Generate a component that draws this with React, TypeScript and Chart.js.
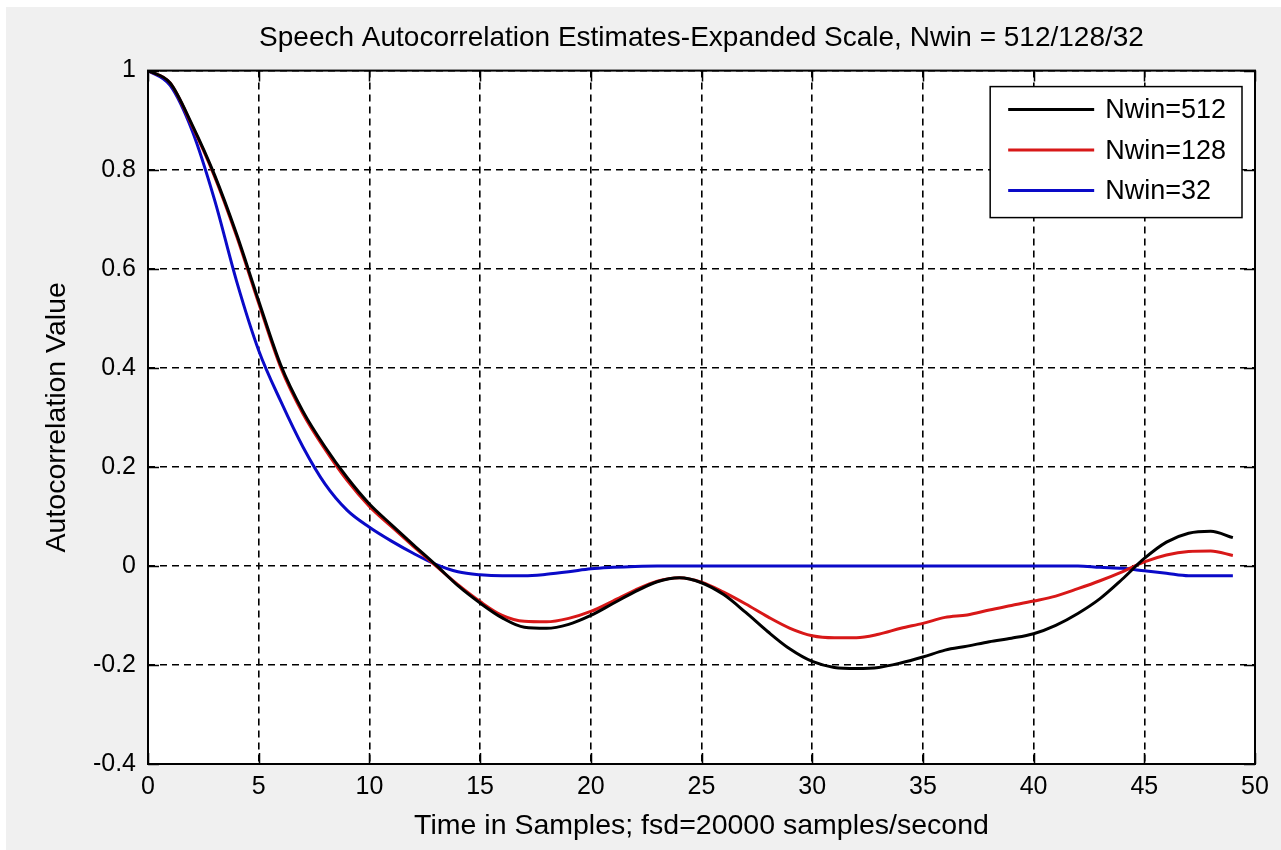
import React, { useEffect, useRef } from "react";
import { Chart, registerables } from "chart.js";

Chart.register(...registerables);

const lags = [
  0, 1, 2, 3, 4, 5, 6, 7, 8, 9, 10, 11, 12, 13, 14, 15, 16, 17, 18, 19, 20, 21, 22, 23, 24,
  25, 26, 27, 28, 29, 30, 31, 32, 33, 34, 35, 36, 37, 38, 39, 40, 41, 42, 43, 44, 45, 46, 47, 48, 49,
];

const nwin512 = [
  1.0, 0.975, 0.89, 0.79, 0.67, 0.535, 0.405, 0.312, 0.24, 0.178, 0.125, 0.083, 0.042, 0.002,
  -0.04, -0.075, -0.105, -0.124, -0.126, -0.118, -0.1, -0.076, -0.052, -0.032, -0.024, -0.034,
  -0.058, -0.094, -0.133, -0.168, -0.193, -0.205, -0.207, -0.205, -0.196, -0.184, -0.17, -0.162,
  -0.153, -0.146, -0.137, -0.12, -0.096, -0.066, -0.027, 0.015, 0.048, 0.066, 0.07, 0.057,
];

const nwin128 = [
  1.0, 0.975, 0.888, 0.787, 0.666, 0.53, 0.4, 0.307, 0.235, 0.172, 0.12, 0.079, 0.039, 0.0,
  -0.038, -0.072, -0.1, -0.112, -0.113, -0.106, -0.092, -0.071, -0.049, -0.031, -0.024, -0.033,
  -0.053, -0.077, -0.103, -0.126, -0.141, -0.145, -0.145, -0.138, -0.126, -0.116, -0.104, -0.099,
  -0.089, -0.08, -0.071, -0.061, -0.046, -0.03, -0.012, 0.008, 0.022, 0.029, 0.03, 0.021,
];

const nwin32 = [
  1.0, 0.97, 0.878, 0.74, 0.575, 0.435, 0.332, 0.24, 0.165, 0.112, 0.078, 0.05, 0.025, 0.003,
  -0.012, -0.018, -0.02, -0.02, -0.017, -0.012, -0.006, -0.003, -0.001, 0.0, 0.0, 0.0, 0.0, 0.0,
  0.0, 0.0, 0.0, 0.0, 0.0, 0.0, 0.0, 0.0, 0.0, 0.0, 0.0, 0.0, 0.0, 0.0, 0.0, -0.003, -0.005,
  -0.01, -0.015, -0.02, -0.02, -0.02,
];

const seriesLabels = ["Nwin=512", "Nwin=128", "Nwin=32"];
const seriesColors = ["#000000", "#d81818", "#0a0ac8"];

const xTicks = [0, 5, 10, 15, 20, 25, 30, 35, 40, 45, 50];
const yTicks = [-0.4, -0.2, 0, 0.2, 0.4, 0.6, 0.8, 1];

const titleText = "Speech Autocorrelation Estimates-Expanded Scale, Nwin = 512/128/32";
const xTitle = "Time in Samples; fsd=20000 samples/second";
const yTitle = "Autocorrelation Value";

const FONT = "'Liberation Sans', Arial, Helvetica, sans-serif";

const fmt = (v: number) => String(Number(v.toFixed(2)));

const matlabPlugin = {
  id: "matlabFrame",
  beforeDraw(chart: any) {
    const { ctx, chartArea: a } = chart;
    ctx.save();
    ctx.fillStyle = "#ffffff";
    ctx.fillRect(a.left, a.top, a.right - a.left, a.bottom - a.top);
    ctx.restore();
  },
  afterDraw(chart: any) {
    const { ctx, chartArea: a, scales } = chart;
    ctx.save();
    // inward tick marks on all four sides
    const tl = 11;
    ctx.strokeStyle = "#000";
    ctx.lineWidth = 1.5;
    ctx.setLineDash([]);
    ctx.beginPath();
    for (const t of xTicks) {
      const px = Math.round(scales.x.getPixelForValue(t)) + 0.5;
      ctx.moveTo(px, a.bottom);
      ctx.lineTo(px, a.bottom - tl);
      ctx.moveTo(px, a.top);
      ctx.lineTo(px, a.top + tl);
    }
    for (const t of yTicks) {
      const py = Math.round(scales.y.getPixelForValue(t)) + 0.5;
      ctx.moveTo(a.left, py);
      ctx.lineTo(a.left + tl, py);
      ctx.moveTo(a.right, py);
      ctx.lineTo(a.right - tl, py);
    }
    ctx.stroke();
    // axes box
    ctx.lineWidth = 2;
    ctx.strokeRect(a.left, a.top, a.right - a.left, a.bottom - a.top);

    // legend (inside the axes, top-right)
    const ds = chart.data.datasets;
    ctx.font = `27px ${FONT}`;
    let maxW = 0;
    for (const d of ds) maxW = Math.max(maxW, ctx.measureText(d.label).width);
    const padL = 18;
    const lineLen = 86;
    const gap = 11;
    const padR = 16;
    const boxW = padL + lineLen + gap + maxW + padR;
    const boxH = 131;
    const bx = a.right - 13 - boxW;
    const by = a.top + 16;
    ctx.fillStyle = "#ffffff";
    ctx.fillRect(bx, by, boxW, boxH);
    ctx.strokeStyle = "#000";
    ctx.lineWidth = 1.5;
    ctx.strokeRect(bx, by, boxW, boxH);
    ds.forEach((d: any, i: number) => {
      const yy = by + 23 + i * 40.5;
      ctx.strokeStyle = d.borderColor;
      ctx.lineWidth = 3;
      ctx.beginPath();
      ctx.moveTo(bx + padL, yy);
      ctx.lineTo(bx + padL + lineLen, yy);
      ctx.stroke();
      ctx.fillStyle = "#000";
      ctx.textBaseline = "middle";
      ctx.textAlign = "left";
      ctx.fillText(d.label, bx + padL + lineLen + gap, yy + 1);
    });
    ctx.restore();
  },
};

export default function App() {
  const canvasRef = useRef<HTMLCanvasElement | null>(null);

  useEffect(() => {
    const canvas = canvasRef.current;
    if (!canvas) return;
    const series = [nwin512, nwin128, nwin32];
    const chart = new Chart(canvas, {
      type: "line",
      data: {
        datasets: series.map((vals, i) => ({
          label: seriesLabels[i],
          data: lags.map((x, j) => ({ x, y: vals[j] })),
          borderColor: seriesColors[i],
          backgroundColor: seriesColors[i],
          borderWidth: 3,
          pointRadius: 0,
          cubicInterpolationMode: "monotone",
          fill: false,
        })),
      },
      options: {
        responsive: false,
        animation: false,
        devicePixelRatio: 1,
        layout: { padding: { left: 0, right: 26, top: 0, bottom: 0 } },
        plugins: {
          legend: { display: false },
          tooltip: { enabled: false },
          title: {
            display: true,
            fullSize: false,
            text: titleText,
            color: "#000",
            font: { family: FONT, size: 28, weight: "normal" },
            padding: { top: 21, bottom: 16 },
          },
        },
        scales: {
          x: {
            type: "linear",
            min: 0,
            max: 50,
            afterBuildTicks: (s: any) => {
              s.ticks = xTicks.map((v) => ({ value: v }));
            },
            afterFit: (s: any) => {
              s.height = 86;
            },
            ticks: {
              color: "#000",
              font: { family: FONT, size: 25 },
              padding: 8,
              maxRotation: 0,
              autoSkip: false,
              callback: (v: any) => fmt(Number(v)),
            },
            grid: { color: "#000", lineWidth: 1.6, drawTicks: false },
            border: { display: false, dash: [7, 5] },
            title: {
              display: true,
              text: xTitle,
              color: "#000",
              font: { family: FONT, size: 28.5 },
              padding: { top: 0, bottom: 7 },
            },
          },
          y: {
            type: "linear",
            min: -0.4,
            max: 1,
            afterBuildTicks: (s: any) => {
              s.ticks = yTicks.map((v) => ({ value: v }));
            },
            afterFit: (s: any) => {
              s.width = 148;
            },
            ticks: {
              color: "#000",
              font: { family: FONT, size: 25 },
              padding: 12,
              autoSkip: false,
              callback: (v: any) => fmt(Number(v)),
            },
            grid: { color: "#000", lineWidth: 1.6, drawTicks: false },
            border: { display: false, dash: [7, 5] },
            title: {
              display: true,
              text: yTitle,
              color: "#000",
              font: { family: FONT, size: 28.5 },
              padding: { top: 40, bottom: 0 },
            },
          },
        },
      },
      plugins: [matlabPlugin],
    });
    return () => chart.destroy();
  }, []);

  return (
    <div
      style={{
        position: "fixed",
        left: 0,
        top: 0,
        width: 1281,
        height: 850,
        background: "#ffffff",
        overflow: "hidden",
      }}
    >
      <div
        style={{
          position: "absolute",
          left: 6,
          top: 7,
          right: 0,
          bottom: 0,
          background: "#f0f0f0",
        }}
      />
      <canvas
        ref={canvasRef}
        width={1281}
        height={850}
        style={{ position: "absolute", left: 0, top: 0, width: 1281, height: 850 }}
      />
    </div>
  );
}
